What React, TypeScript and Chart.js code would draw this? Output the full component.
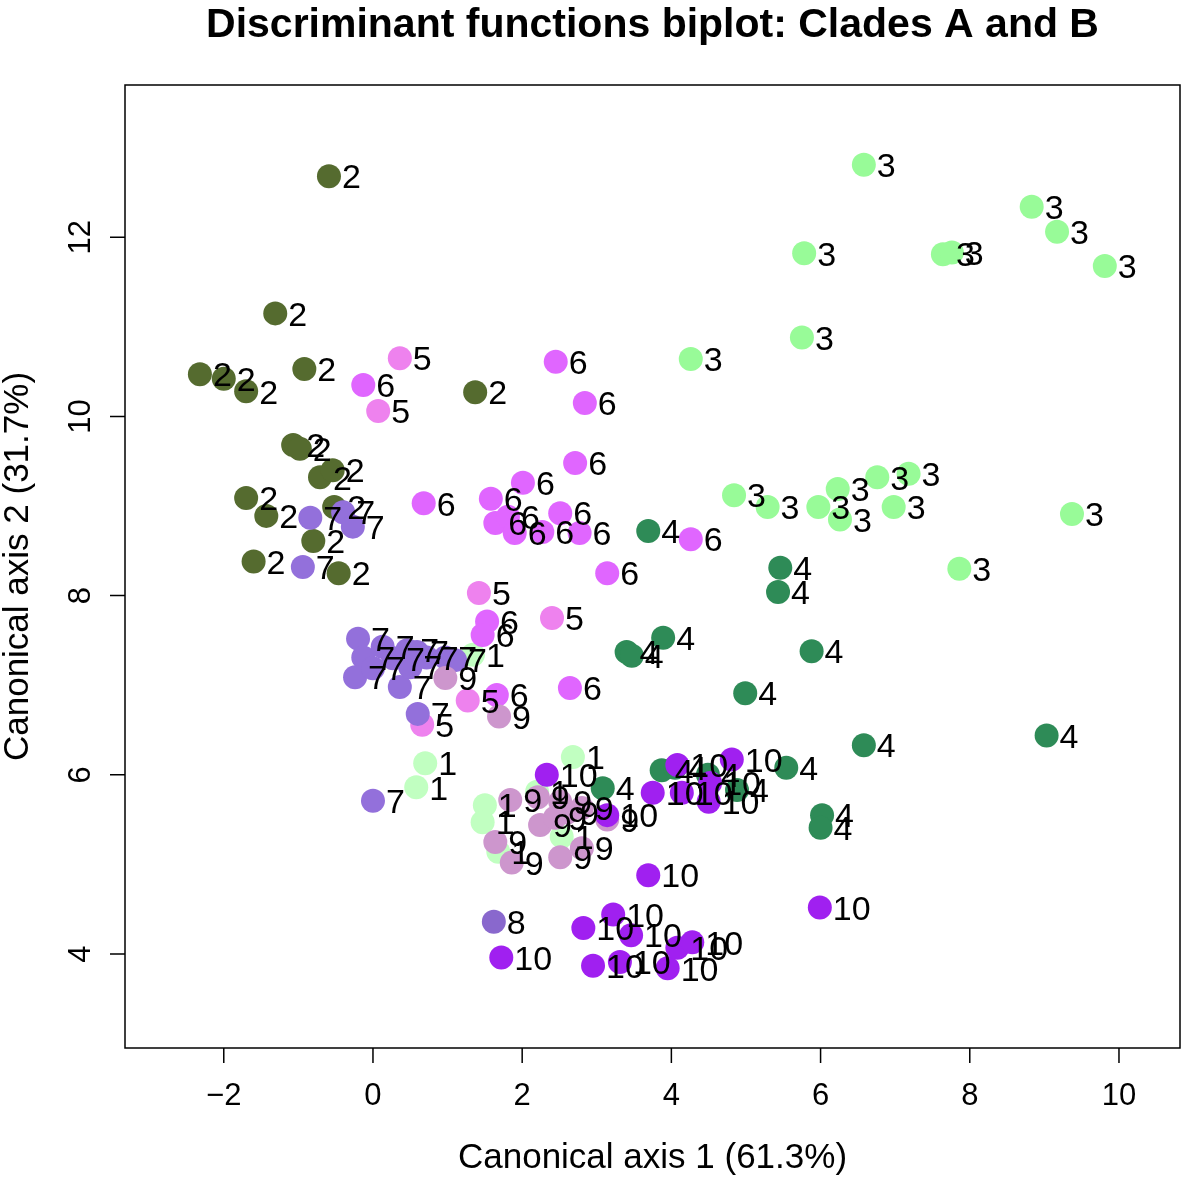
import React, { useEffect, useRef } from "react";
import { Chart, registerables } from "chart.js";

Chart.register(...registerables);

const titleText = "Discriminant functions biplot: Clades A and B";
const xTitle = "Canonical axis 1 (61.3%)";
const yTitle = "Canonical axis 2 (31.7%)";

const xTicks = [-2, 0, 2, 4, 6, 8, 10];
const yTicks = [4, 6, 8, 10, 12];

const groupLabels = ["1", "2", "3", "4", "5", "6", "7", "8", "9", "10"];
const groupColors = ["#C1FFC1", "#556B2F", "#98FB98", "#2E8B57", "#EE82EE", "#E066FF", "#9370DB", "#8968CD", "#CD96CD", "#A020F0"];

const g1X = [0.70, 0.58, 2.68, 1.50, 1.47, 1.68, 2.53, 1.34, 2.20];
const g1Y = [6.13, 5.86, 6.20, 5.66, 5.47, 5.14, 5.31, 7.34, 5.81];

const g2X = [-0.59, -1.31, -2.32, -2.00, -1.70, -0.92, 1.37, -1.07, -0.98, -0.71, -0.54, -1.70, -1.43, -0.52, -0.80, -1.60, -0.46];
const g2Y = [12.68, 11.15, 10.47, 10.42, 10.28, 10.53, 10.27, 9.68, 9.64, 9.32, 9.40, 9.09, 8.89, 8.99, 8.61, 8.38, 8.25];

const g3X = [6.58, 5.78, 7.64, 7.76, 8.83, 9.17, 9.81, 5.75, 4.26, 4.84, 5.29, 5.97, 6.23, 6.26, 6.76, 7.18, 6.98, 9.37, 7.86];
const g3Y = [12.81, 11.82, 11.81, 11.83, 12.34, 12.06, 11.68, 10.88, 10.64, 9.12, 8.99, 8.99, 9.19, 8.85, 9.32, 9.36, 8.99, 8.91, 8.30];

const g4X = [3.69, 5.46, 5.43, 3.89, 3.40, 3.47, 5.88, 4.99, 6.58, 9.03, 5.54, 6.02, 6.00, 3.87, 4.05, 4.49, 4.88, 3.08];
const g4Y = [8.72, 8.31, 8.04, 7.53, 7.37, 7.33, 7.38, 6.91, 6.33, 6.44, 6.08, 5.55, 5.41, 6.05, 6.08, 6.00, 5.83, 5.85];

const g5X = [0.36, 0.07, 1.42, 2.40, 1.27, 0.66];
const g5Y = [10.65, 10.06, 8.03, 7.75, 6.83, 6.56];

const g6X = [2.45, 2.84, -0.13, 2.71, 2.01, 1.58, 0.68, 1.64, 1.81, 1.90, 2.27, 2.51, 2.77, 4.26, 3.14, 1.53, 1.47, 2.64, 1.66];
const g6Y = [10.61, 10.15, 10.35, 9.48, 9.26, 9.08, 9.03, 8.81, 8.88, 8.70, 8.71, 8.92, 8.70, 8.63, 8.25, 7.71, 7.56, 6.97, 6.89];

const g7X = [-0.84, -0.40, -0.27, -0.94, -0.20, -0.13, -0.24, 0.13, 0.27, 0.46, 0.59, 0.00, 0.36, 0.50, 0.72, 0.97, 1.10, 0.60, 0.00];
const g7Y = [8.87, 8.93, 8.77, 8.32, 7.52, 7.31, 7.09, 7.43, 7.30, 7.39, 7.37, 7.19, 6.98, 7.20, 7.31, 7.31, 7.28, 6.68, 5.71];

const g8X = [1.62];
const g8Y = [4.36];

const g9X = [0.97, 1.69, 1.84, 2.21, 2.51, 2.24, 2.60, 2.80, 3.14, 1.64, 1.86, 2.80, 2.44, 2.51];
const g9Y = [7.08, 6.65, 5.72, 5.75, 5.70, 5.44, 5.58, 5.63, 5.50, 5.25, 5.02, 5.18, 5.52, 5.08];

const g10X = [2.33, 3.75, 3.14, 3.69, 5.99, 4.08, 4.81, 4.14, 4.50, 4.52, 1.72, 2.82, 3.22, 3.46, 2.95, 3.31, 3.95, 4.08, 4.28];
const g10Y = [6.00, 5.80, 5.55, 4.88, 4.52, 6.11, 6.17, 5.80, 5.70, 5.91, 3.96, 4.29, 4.44, 4.21, 3.87, 3.91, 3.84, 4.07, 4.13];

const groupXs = [g1X, g2X, g3X, g4X, g5X, g6X, g7X, g8X, g9X, g10X];
const groupYs = [g1Y, g2Y, g3Y, g4Y, g5Y, g6Y, g7Y, g8Y, g9Y, g10Y];

const FONT = '"Liberation Sans", Arial, Helvetica, sans-serif';
const LABEL_SIZE = 34;
const TICK_SIZE = 31;
const AXIS_TITLE_SIZE = 35;
const TITLE_SIZE = 41;

const fmt = (v: number) => (v < 0 ? "\u2212" + Math.abs(v) : String(v));

const rPlugin = {
  id: "rstyle",
  afterDatasetsDraw(chart: any) {
    const ctx = chart.ctx;
    ctx.save();
    ctx.font = `${LABEL_SIZE}px ${FONT}`;
    ctx.fillStyle = "#000";
    ctx.textAlign = "left";
    ctx.textBaseline = "alphabetic";
    chart.data.datasets.forEach((ds: any, i: number) => {
      const meta = chart.getDatasetMeta(i);
      meta.data.forEach((pt: any) => {
        ctx.fillText(ds.label, pt.x + 13, pt.y + LABEL_SIZE * 0.358);
      });
    });
    ctx.restore();
  },
  afterDraw(chart: any) {
    const { ctx, chartArea: a, scales } = chart;
    ctx.save();
    ctx.strokeStyle = "#000";
    ctx.lineWidth = 1.5;
    ctx.strokeRect(a.left, a.top, a.right - a.left, a.bottom - a.top);
    ctx.beginPath();
    xTicks.forEach((v) => {
      const px = scales.x.getPixelForValue(v);
      ctx.moveTo(px, a.bottom);
      ctx.lineTo(px, a.bottom + 15);
    });
    yTicks.forEach((v) => {
      const py = scales.y.getPixelForValue(v);
      ctx.moveTo(a.left, py);
      ctx.lineTo(a.left - 15, py);
    });
    ctx.stroke();

    ctx.fillStyle = "#000";
    ctx.textAlign = "center";
    ctx.textBaseline = "alphabetic";
    ctx.font = `${TICK_SIZE}px ${FONT}`;
    xTicks.forEach((v) => {
      ctx.fillText(fmt(v), scales.x.getPixelForValue(v), a.bottom + 57);
    });
    yTicks.forEach((v) => {
      ctx.save();
      ctx.translate(a.left - 35, scales.y.getPixelForValue(v));
      ctx.rotate(-Math.PI / 2);
      ctx.fillText(fmt(v), 0, 0);
      ctx.restore();
    });

    const cx = (a.left + a.right) / 2;
    const cy = (a.top + a.bottom) / 2;
    ctx.font = `${AXIS_TITLE_SIZE}px ${FONT}`;
    ctx.fillText(xTitle, cx, a.bottom + 120);
    ctx.save();
    ctx.translate(28, cy);
    ctx.rotate(-Math.PI / 2);
    ctx.fillText(yTitle, 0, 0);
    ctx.restore();

    ctx.font = `bold ${TITLE_SIZE}px ${FONT}`;
    ctx.fillText(titleText, cx, 37);
    ctx.restore();
  },
};

export default function App() {
  const ref = useRef<HTMLCanvasElement>(null);
  useEffect(() => {
    const datasets = groupLabels.map((lab, gi) => ({
      label: lab,
      data: groupXs[gi].map((x, j) => ({ x, y: groupYs[gi][j] })),
      backgroundColor: groupColors[gi],
      borderWidth: 0,
      pointRadius: 12,
      pointHoverRadius: 12,
      order: groupLabels.length - gi,
    }));
    const chart = new Chart(ref.current as HTMLCanvasElement, {
      type: "scatter",
      data: { datasets },
      options: {
        animation: false,
        responsive: false,
        devicePixelRatio: 1,
        events: [],
        layout: { autoPadding: false, padding: { left: 125, top: 85, right: 20, bottom: 137 } },
        plugins: { legend: { display: false }, tooltip: { enabled: false }, title: { display: false } },
        scales: {
          x: { type: "linear", display: false, min: -3.324, max: 10.818 },
          y: { type: "linear", display: false, min: 2.951, max: 13.699 },
        },
      },
      plugins: [rPlugin],
    } as any);
    return () => chart.destroy();
  }, []);
  return (
    <div style={{ position: "absolute", left: 0, top: 0, width: 1200, height: 1185, background: "#fff" }}>
      <canvas ref={ref} width={1200} height={1185} style={{ display: "block" }} />
    </div>
  );
}
